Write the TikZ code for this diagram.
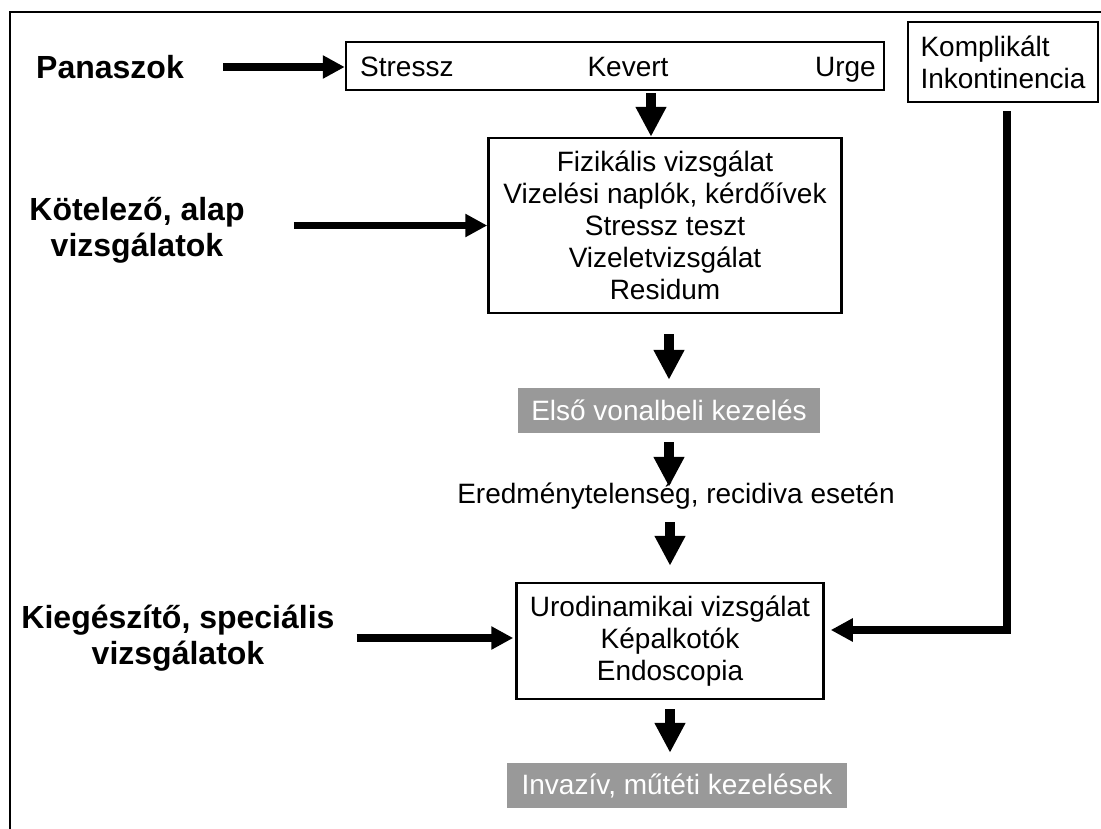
\documentclass[tikz,border=0pt]{standalone}
\usepackage{fontspec}
\setmainfont{Liberation Sans}
\usetikzlibrary{arrows.meta}
\definecolor{boxgray}{RGB}{153,153,153}
\newcommand{\diagtext}{\fontsize{28}{32}\selectfont}
\newcommand{\diaglabel}{\fontsize{32}{36}\selectfont\bfseries}
\tikzset{
  box/.style={draw, line width=2.5pt, inner sep=0pt, font=\diagtext, align=center},
  gbox/.style={fill=boxgray, text=white, inner sep=0pt, font=\diagtext},
  lbl/.style={font=\diaglabel, align=center, inner sep=0pt},
  txt/.style={font=\diagtext, inner sep=0pt},
  darrow/.style={line width=10pt, -{Triangle[length=30pt,width=29pt]}},
  harrow/.style={line width=7.5pt, -{Triangle[length=22pt,width=22pt]}},
}
\begin{document}
\begin{tikzpicture}[x={(1pt,0)}, y={(0,-1pt)}]
  \useasboundingbox (0,0) rectangle (1101,828);
  \clip (0,0) rectangle (1101,828);
  % outer frame
  \draw[line width=2pt] (10,12) rectangle (1120,850);

  % complaint types
  \node[box, minimum width=538pt, minimum height=48pt] (top) at (615,66) {};
  \node[txt, anchor=base west] (stressz) at (360,76) {Stressz};
  \node[txt, anchor=base] (kevert) at (628,76) {Kevert};
  \node[txt, anchor=base east] (urge) at (876,76) {Urge};

  \node[box, align=left, minimum width=190pt, minimum height=80pt] (kompl) at (1003,62)
    {Komplikált\\Inkontinencia};

  % basic examinations
  \node[box, minimum width=353pt, minimum height=175pt] (b2) at (665,225.5)
    {Fizikális vizsgálat\\Vizelési naplók, kérdőívek\\Stressz teszt\\Vizeletvizsgálat\\Residum};

  \node[gbox, minimum width=302pt, minimum height=45pt] (g1) at (669,410.5) {Első vonalbeli kezelés};

  \node[txt, anchor=base, text height=16pt, text depth=6pt] (ered) at (676,503)
    {Eredménytelenség, recidiva esetén};

  % special examinations
  \node[box, minimum width=307pt, minimum height=116pt] (b3) at (670,641)
    {Urodinamikai vizsgálat\\Képalkotók\\Endoscopia};

  \node[gbox, minimum width=340pt, minimum height=45pt] (g2) at (677,785.5) {Invazív, műtéti kezelések};

  % row labels
  \node[lbl] (pan) at (110,67) {Panaszok};
  \node[lbl] (kot) at (137,230) {Kötelező, alap\\vizsgálatok};
  \node[lbl] (kie) at (178,638) {Kiegészítő, speciális\\vizsgálatok};

  % horizontal inputs
  \draw[harrow, shorten <=39pt] (pan.east) -- (pan.east -| top.west);
  \draw[harrow, shorten <=49pt] (kot.east |- b2.west) -- (b2.west);
  \draw[harrow, shorten <=22pt, shorten >=2pt] (kie.east) -- (kie.east -| b3.west);

  % complicated incontinence goes straight to the special examinations
  \coordinate (turn) at ([xshift=4pt]kompl.south |- 0,630);
  \draw[harrow, line width=8pt, shorten >=6pt]
    ([xshift=4pt,yshift=-8pt]kompl.south) -- (turn) -- (turn -| b3.east);

  % main vertical flow
  \draw[darrow, shorten <=2pt] ([xshift=-14pt]b2.north |- top.south) -- ([xshift=-14pt]b2.north);
  \draw[darrow, shorten <=20pt, shorten >=8pt] (g1.north |- b2.south) -- (g1.north);
  \draw[darrow, shorten <=9pt] (g1.south) -- (g1.south |- ered.north);
  \draw[darrow, shorten <=13pt, shorten >=16pt] (b3.north |- ered.south) -- (b3.north);
  \draw[darrow, shorten <=9pt, shorten >=10pt] (b3.south) -- (b3.south |- g2.north);
\end{tikzpicture}
\end{document}
